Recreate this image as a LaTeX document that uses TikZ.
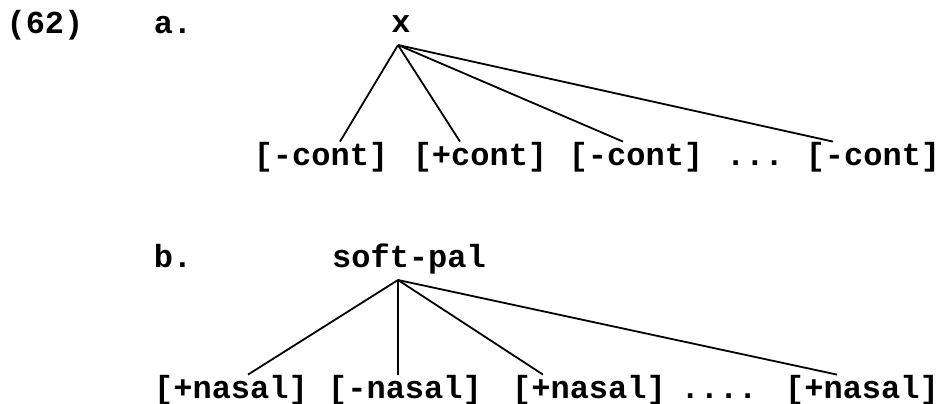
\documentclass[tikz,border=0pt]{standalone}
\usepackage{fontspec}
\setmonofont{Liberation Mono}
\usepackage{tikz}
\usetikzlibrary{positioning, calc}

\begin{document}
\begin{tikzpicture}[x=1pt, y=-1pt,
    every node/.style={inner sep=0pt, anchor=base,
        font=\fontsize{32}{38}\selectfont\ttfamily\bfseries},
    branch/.style={line width=1.8pt}]
    \useasboundingbox (0,0) rectangle (948,404);

    % (62) a.
    \node (exnum) at (45,34) {(62)};
    \node (parta) at (173,34) {a.};
    \node (rootA) at (401,33) {x};
    \node (contA) at (321,165) {[-cont]};
    \node (contB) at (480,165) {[+cont]};
    \node (contC) at (636,165) {[-cont]};
    \node (dotsA) at (755,165) {...};
    \node (contD) at (873,165) {[-cont]};

    \draw[branch] ([shift={(-3,12)}]rootA.base) -- ([xshift=19pt]contA.north);
    \draw[branch] ([shift={(-3,12)}]rootA.base) -- ([xshift=-20pt]contB.north);
    \draw[branch] ([shift={(-3,12)}]rootA.base) -- ([xshift=-13pt]contC.north);
    \draw[branch] ([shift={(-3,12)}]rootA.base) -- ([xshift=-40pt]contD.north);

    % b.
    \node (partb) at (173,267) {b.};
    \node (rootB) at (409,267) {soft-pal};
    \node (nasA) at (231,398) {[+nasal]};
    \node (nasB) at (405,398) {[-nasal]};
    \node (nasC) at (589,398) {[+nasal]};
    \node (dotsB) at (719,398) {....};
    \node (nasD) at (862,398) {[+nasal]};

    \draw[branch] ([shift={(-11,13)}]rootB.base) -- ([xshift=17pt]nasA.north);
    \draw[branch] ([shift={(-11,13)}]rootB.base) -- ([xshift=-7pt]nasB.north);
    \draw[branch] ([shift={(-11,13)}]rootB.base) -- ([xshift=-46pt]nasC.north);
    \draw[branch] ([shift={(-11,13)}]rootB.base) -- ([xshift=-25pt]nasD.north);
\end{tikzpicture}
\end{document}
